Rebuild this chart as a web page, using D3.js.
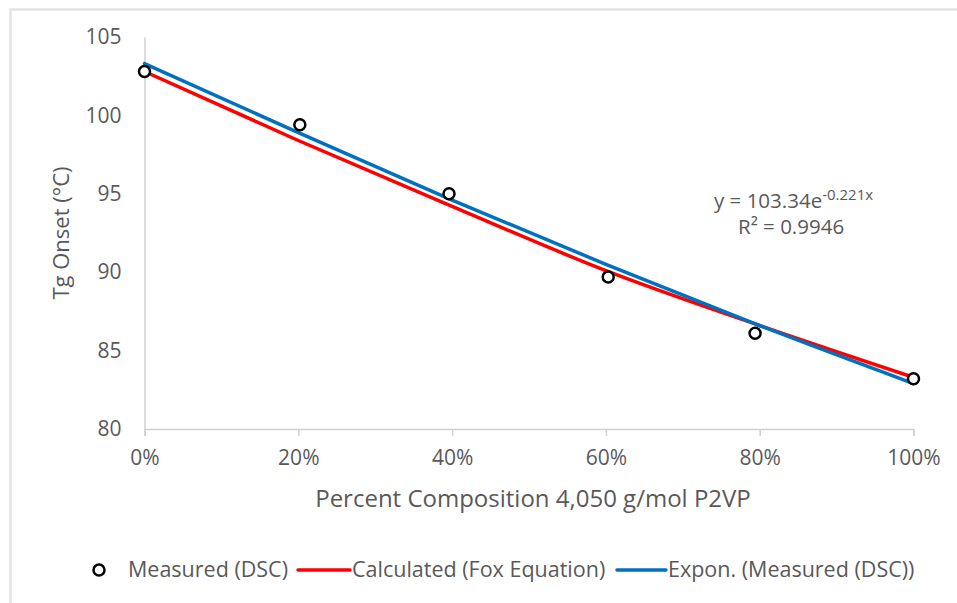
<!DOCTYPE html>
<html><head><meta charset="utf-8">
<script src="https://cdn.jsdelivr.net/npm/d3@7"></script>
<style>body{margin:0;background:#fff}svg{display:block}text{font-family:"Open Sans",sans-serif;fill:#595959}</style>
</head><body><svg id="c" width="957" height="603"></svg>
<script>
const measuredX = [0, 0.202, 0.396, 0.603, 0.794, 1.0];
const measuredY = [102.8, 99.4, 95.0, 89.7, 86.1, 83.2];
const foxX = [0, 0.2, 0.4, 0.6, 0.8, 1.0];
const foxY = [102.8, 98.4, 94.2, 90.1, 86.6, 83.3];
const expX = [0, 0.2, 0.4, 0.6, 0.8, 1.0];
const expY = [103.3, 98.9, 94.6, 90.5, 86.6, 82.9];
const xTicks = [0, 0.2, 0.4, 0.6, 0.8, 1.0];
const yTicks = [80, 85, 90, 95, 100, 105];
const legendLabels = ["Measured (DSC)", "Calculated (Fox Equation)", "Expon. (Measured (DSC))"];

const svg = d3.select("#c");
const x = d3.scaleLinear().domain([0, 1]).range([144.5, 913.5]);
const y = d3.scaleLinear().domain([80, 105]).range([429, 37]);

// frame
svg.append("path").attr("d", "M10.5,603 V9.5 H957").attr("fill", "none").attr("stroke", "#e3e3e3").attr("stroke-width", 2.5);

// x axis
const xa = svg.append("g").attr("transform", "translate(0,429)")
  .call(d3.axisBottom(x).tickValues(xTicks).tickFormat(d3.format(".0%")).tickSize(7).tickPadding(14));
xa.select(".domain").attr("stroke", "#d0d0d0").attr("stroke-width", 1.5);
xa.selectAll(".tick line").attr("stroke", "#d0d0d0").attr("stroke-width", 1.5);
xa.selectAll("text").style("font-size", "21px").style("font-family", "Open Sans").attr("fill", "#595959");

// y axis
const ya = svg.append("g").attr("transform", "translate(144.5,0)")
  .call(d3.axisLeft(y).tickValues(yTicks).tickSize(0).tickPadding(23));
ya.select(".domain").attr("stroke", "#d0d0d0").attr("stroke-width", 1.5);
ya.selectAll("text").style("font-size", "21px").style("font-family", "Open Sans").attr("fill", "#595959");

// axis titles
svg.append("text").attr("x", 533).attr("y", 507).attr("text-anchor", "middle").style("font-size", "24px")
  .text("Percent Composition 4,050 g/mol P2VP");
svg.append("text").attr("transform", "translate(69,233) rotate(-90)").attr("text-anchor", "middle").style("font-size", "22px")
  .text("Tg Onset (°C)");

const line = d3.line().curve(d3.curveMonotoneX);
// fox line
svg.append("path").attr("d", line(foxX.map((d, i) => [x(d), y(foxY[i])])))
  .attr("fill", "none").attr("stroke", "#ff0000").attr("stroke-width", 3.5).attr("stroke-linecap", "round");
// exp line
svg.append("path").attr("d", line(expX.map((d, i) => [x(d), y(expY[i])])))
  .attr("fill", "none").attr("stroke", "#0070c0").attr("stroke-width", 3.5).attr("stroke-linecap", "round");

// measured points
svg.append("g").selectAll("circle").data(measuredX).join("circle")
  .attr("cx", d => x(d)).attr("cy", (d, i) => y(measuredY[i])).attr("r", 5.5)
  .attr("fill", "#fff").attr("stroke", "#000").attr("stroke-width", 2.5);

// equation
const eq = svg.append("text").attr("x", 714).attr("y", 208).style("font-size", "20.5px");
eq.append("tspan").text("y = 103.34e");
eq.append("tspan").attr("dy", -8).style("font-size", "15px").text("-0.221x");
svg.append("text").attr("x", 738).attr("y", 234).style("font-size", "20.5px").text("R² = 0.9946");

// legend
const lg = svg.append("g");
lg.append("circle").attr("cx", 99).attr("cy", 570).attr("r", 5.5).attr("fill", "#fff").attr("stroke", "#000").attr("stroke-width", 2.5);
lg.append("text").attr("x", 128).attr("y", 577).style("font-size", "21.5px").text(legendLabels[0]);
lg.append("line").attr("x1", 298).attr("x2", 350).attr("y1", 570).attr("y2", 570).attr("stroke", "#ff0000").attr("stroke-width", 3.5).attr("stroke-linecap", "round");
lg.append("text").attr("x", 352).attr("y", 577).style("font-size", "21.5px").text(legendLabels[1]);
lg.append("line").attr("x1", 617).attr("x2", 666).attr("y1", 570).attr("y2", 570).attr("stroke", "#0070c0").attr("stroke-width", 3.5).attr("stroke-linecap", "round");
lg.append("text").attr("x", 668).attr("y", 577).style("font-size", "21.5px").text(legendLabels[2]);
</script></body></html>
